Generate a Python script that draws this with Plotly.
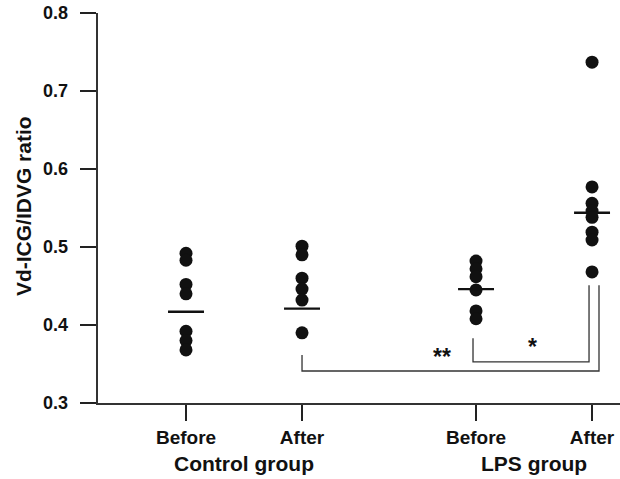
import plotly.graph_objects as go

# ---- data ----
conditions = ["Before", "After", "Before", "After"]
positions = [0, 1, 2.5, 3.5]
group_labels = ["Control group", "LPS group"]

control_before = [0.492, 0.483, 0.452, 0.440, 0.392, 0.380, 0.368]
control_after = [0.501, 0.490, 0.460, 0.446, 0.432, 0.390]
lps_before = [0.482, 0.472, 0.462, 0.445, 0.418, 0.408]
lps_after = [0.737, 0.577, 0.556, 0.546, 0.538, 0.519, 0.509, 0.468]
series = [control_before, control_after, lps_before, lps_after]
mean_lines = [0.417, 0.421, 0.446, 0.544]

y_ticks = [0.3, 0.4, 0.5, 0.6, 0.7, 0.8]
y_title = "Vd-ICG/IDVG ratio"

# significance brackets: (left pos, right pos, left top y, right top y, bottom y, label, label x, label y)
brackets = [
    (1.0, 3.56, 0.3615, 0.451, 0.341, "**", 2.21, 0.3658),
    (2.474, 3.474, 0.383, 0.451, 0.3526, "*", 2.99, 0.3788),
]

FONT = "Liberation Sans"
INK = "#111111"

fig = go.Figure()

for pos, vals in zip(positions, series):
    fig.add_trace(go.Scatter(
        x=[pos] * len(vals), y=vals, mode="markers",
        marker=dict(size=13, color=INK, line=dict(width=0)),
        showlegend=False, hoverinfo="y"))

half = 0.155
for pos, m in zip(positions, mean_lines):
    fig.add_trace(go.Scatter(
        x=[pos - half, pos + half], y=[m, m], mode="lines",
        line=dict(color=INK, width=2.4), showlegend=False, hoverinfo="skip"))

for (xl, xr, yl, yr, yb, lab, lx, ly) in brackets:
    fig.add_trace(go.Scatter(
        x=[xl, xl, xr, xr], y=[yl, yb, yb, yr], mode="lines",
        line=dict(color="#333333", width=1.3), showlegend=False, hoverinfo="skip"))
    fig.add_annotation(x=lx, y=ly, text="<b>%s</b>" % lab, showarrow=False,
                       font=dict(family=FONT, size=23, color=INK),
                       xanchor="center", yanchor="middle", yshift=-5)

fig.add_annotation(xref="paper", yref="paper", x=-75 / 522, y=0.505,
                   text="<b>%s</b>" % y_title, textangle=-90, showarrow=False,
                   font=dict(family=FONT, size=21, color=INK),
                   xanchor="center", yanchor="middle")

for i, g in enumerate(group_labels):
    cx = (positions[2 * i] + positions[2 * i + 1]) / 2
    fig.add_annotation(xref="x", yref="paper", x=cx, y=-61 / 390,
                       text="<b>%s</b>" % g, showarrow=False,
                       font=dict(family=FONT, size=21, color=INK),
                       xanchor="center", yanchor="middle")

fig.update_layout(
    width=620, height=479,
    margin=dict(l=98, r=0, t=13, b=76),
    paper_bgcolor="white", plot_bgcolor="white",
    font=dict(family=FONT, color=INK),
)
fig.update_xaxes(
    range=[-0.7586, 3.741], tickmode="array", tickvals=positions,
    ticktext=["<b>%s</b>" % c for c in conditions],
    tickfont=dict(family=FONT, size=19, color=INK),
    ticks="outside", ticklen=16, tickwidth=1.5, tickcolor="#222222",
    showline=True, linecolor="#333333", linewidth=1.5,
    showgrid=False, zeroline=False,
)
fig.update_yaxes(
    range=[0.3, 0.8], tickmode="array", tickvals=y_ticks,
    ticktext=["<b>%.1f</b>\u00a0\u2009" % t for t in y_ticks],
    tickfont=dict(family=FONT, size=18, color=INK),
    ticks="outside", ticklen=16, tickwidth=1.5, tickcolor="#222222",
    showline=True, linecolor="#333333", linewidth=1.5,
    showgrid=False, zeroline=False,
)

fig.write_html("out.html")
